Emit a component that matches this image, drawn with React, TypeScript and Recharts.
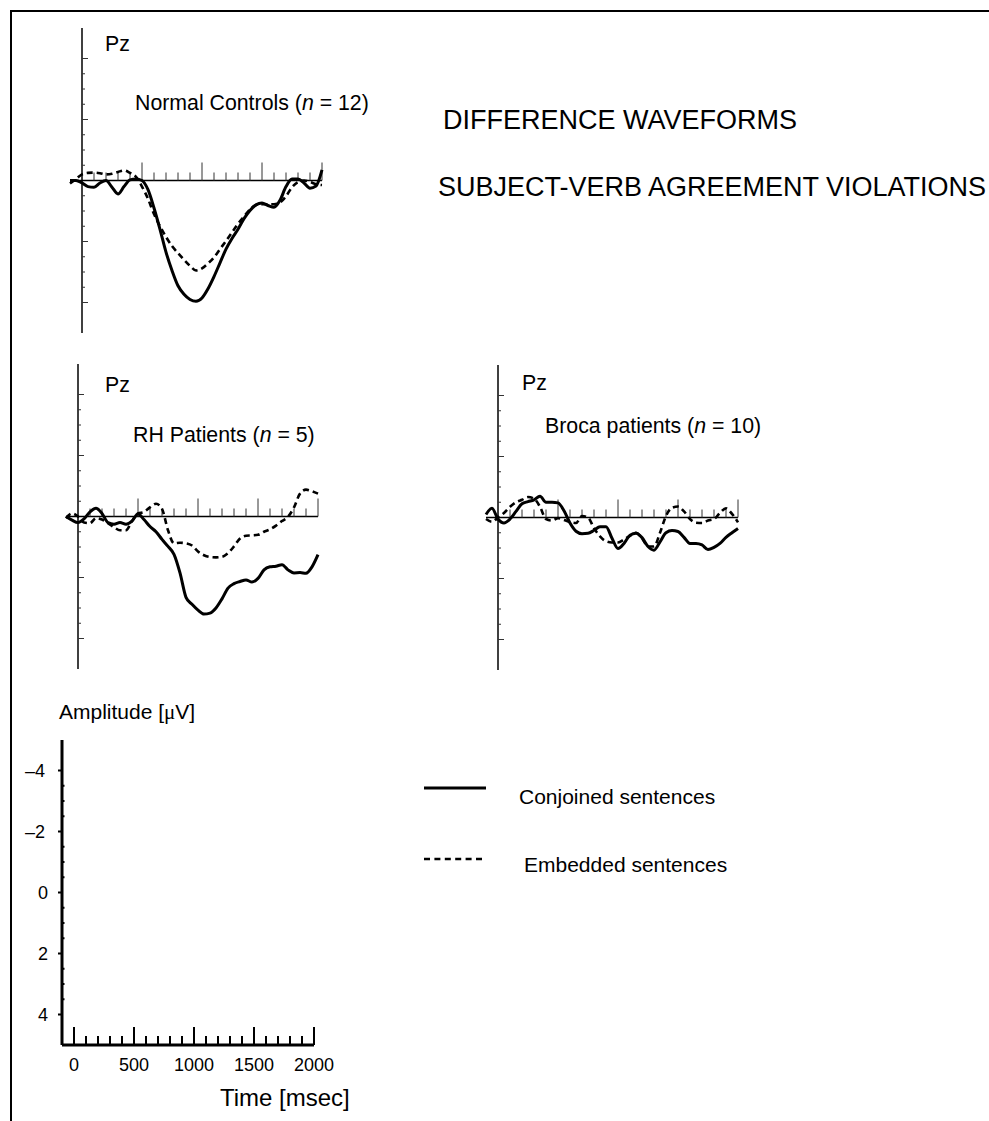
import React from "react";
import { LineChart, Line, XAxis, YAxis, ReferenceLine } from "recharts";

// time base shared by every waveform (ms)
const timeMs = [
  -100, -50, 0, 50, 100, 150, 200, 250, 300, 350, 400, 450, 500, 550, 600,
  650, 700, 750, 800, 850, 900, 950, 1000, 1050, 1100, 1150, 1200, 1250, 1300,
  1350, 1400, 1450, 1500, 1550, 1600, 1650, 1700, 1750, 1800, 1850, 1900, 1950,
  2000,
];

// amplitudes in µV (negative plotted up)
const normalConjoined = [
  0.0, 0.0, 0.08, 0.2, 0.22, 0.08, 0.0, 0.22, 0.44, 0.2, -0.02, -0.05, 0.0,
  0.3, 0.9, 1.6, 2.35, 2.95, 3.45, 3.73, 3.9, 3.96, 3.85, 3.55, 3.15, 2.7,
  2.25, 1.9, 1.6, 1.25, 0.98, 0.8, 0.74, 0.82, 0.88, 0.65, 0.2, -0.05, -0.05,
  0.08, 0.25, 0.18, -0.35,
];
const normalEmbedded = [
  0.1, -0.05, -0.2, -0.25, -0.26, -0.24, -0.2, -0.22, -0.28, -0.33, -0.25,
  -0.12, 0.2, 0.6, 1.1, 1.5, 1.85, 2.15, 2.38, 2.6, 2.8, 2.95, 2.88, 2.72,
  2.52, 2.25, 1.98, 1.7, 1.42, 1.18, 0.95, 0.8, 0.78, 0.78, 0.78, 0.72, 0.52,
  0.22, 0.05, 0.0, 0.05, 0.12, 0.15,
];
const rhConjoined = [
  0.0, 0.12, 0.2, 0.08, -0.15, -0.27, -0.1, 0.2, 0.25, 0.2, 0.25, 0.15, -0.08,
  0.1, 0.33, 0.5, 0.75, 0.98, 1.24, 1.85, 2.65, 2.88, 3.07, 3.2, 3.17, 3.0,
  2.7, 2.35, 2.2, 2.13, 2.08, 2.15, 2.03, 1.75, 1.65, 1.63, 1.58, 1.75, 1.85,
  1.84, 1.86, 1.65, 1.25,
];
const rhEmbedded = [
  0.05, -0.1, 0.0, 0.2, 0.22, 0.05, 0.1, 0.22, 0.35, 0.45, 0.45, 0.15, -0.1,
  -0.15, -0.3, -0.42, -0.25, 0.45, 0.88, 0.86, 0.88, 0.95, 1.15, 1.27, 1.33,
  1.34, 1.32, 1.2, 0.98, 0.72, 0.63, 0.62, 0.6, 0.5, 0.42, 0.3, 0.15, 0.01,
  -0.3, -0.75, -0.88, -0.83, -0.75,
];
const brocaConjoined = [
  -0.1, -0.3, 0.05, 0.18, 0.05, -0.2, -0.45, -0.52, -0.58, -0.7, -0.5, -0.5,
  -0.48, -0.22, 0.18, 0.45, 0.53, 0.52, 0.42, 0.3, 0.3, 0.68, 1.02, 0.85, 0.58,
  0.52, 0.66, 0.95, 1.07, 0.8, 0.5, 0.43, 0.46, 0.65, 0.85, 0.85, 0.9, 1.05,
  0.98, 0.85, 0.65, 0.5, 0.36,
];
const brocaEmbedded = [
  0.05, 0.14, 0.0, -0.15, -0.35, -0.5, -0.58, -0.67, -0.62, -0.35, 0.05, 0.1,
  0.02, 0.08, 0.15, 0.18, -0.05, 0.0, 0.35, 0.62, 0.78, 0.82, 0.82, 0.72, 0.6,
  0.5, 0.68, 0.95, 0.95, 0.5, -0.05, -0.32, -0.36, -0.2, 0.05, 0.17, 0.18, 0.1,
  0.05, -0.15, -0.3, -0.12, 0.16,
];

// axis ticks
const panelYTicks = [
  -4, -3.5, -3, -2.5, -2, -1.5, -1, -0.5, 0.5, 1, 1.5, 2, 2.5, 3, 3.5, 4,
];
const panelYMajor = [-4, -2, 2, 4];
const panelXTicks = [
  100, 200, 300, 400, 500, 600, 700, 800, 900, 1000, 1100, 1200, 1300, 1400,
  1500, 1600, 1700, 1800, 1900, 2000,
];
const xMajor = [0, 500, 1000, 1500, 2000];
const scaleXTicks = [0, ...panelXTicks];
const scaleYTicks = [
  -4, -3.5, -3, -2.5, -2, -1.5, -1, -0.5, 0, 0.5, 1, 1.5, 2, 2.5, 3, 3.5, 4,
];
const scaleYLabels = [-4, -2, 0, 2, 4];

const T_DOMAIN: [number, number] = [-100, 2000];
const V_DOMAIN: [number, number] = [-5, 5];
const PLOT_W = 252;
const PLOT_H = 305;
const PAD = 10;
const MS_PER_PX = (T_DOMAIN[1] - T_DOMAIN[0]) / PLOT_W;
const UV_PER_PX = (V_DOMAIN[1] - V_DOMAIN[0]) / PLOT_H;

const FONT = '"Liberation Sans", Arial, Helvetica, sans-serif';

type TextProps = {
  left: number;
  cy: number;
  size: number;
  children: React.ReactNode;
};

const Txt = ({ left, cy, size, children }: TextProps) => (
  <div
    style={{
      position: "absolute",
      left,
      top: cy - size * 0.59,
      fontSize: size,
      lineHeight: `${size * 1.2}px`,
      fontFamily: FONT,
      whiteSpace: "nowrap",
      color: "#000",
    }}>
    {children}
  </div>
);

type PanelProps = {
  plotLeft: number;
  plotTop: number;
  conjoined: number[];
  embedded: number[];
};

const WavePanel = ({ plotLeft, plotTop, conjoined, embedded }: PanelProps) => {
  const rows = timeMs.map((t, i) => ({
    t,
    conjoined: conjoined[i],
    embedded: embedded[i],
  }));
  return (
    <div style={{ position: "absolute", left: plotLeft - PAD, top: plotTop - PAD }}>
      <LineChart
        width={PLOT_W + 2 * PAD}
        height={PLOT_H + 2 * PAD}
        data={rows}
        margin={{ top: PAD, right: PAD, bottom: PAD, left: PAD }}>
        <XAxis type="number" dataKey="t" domain={T_DOMAIN} hide />
        <YAxis type="number" domain={V_DOMAIN} reversed hide />
        <ReferenceLine x={0} stroke="#000" strokeWidth={1.5} />
        <ReferenceLine y={0} stroke="#000" strokeWidth={1.5} />
        {panelYTicks.map((v) => (
          <ReferenceLine
            key={"y" + v}
            segment={[
              { x: 0, y: v },
              { x: (panelYMajor.includes(v) ? 6 : 3) * MS_PER_PX, y: v },
            ]}
            stroke="#333"
            strokeWidth={1}
          />
        ))}
        {panelXTicks.map((t) => (
          <ReferenceLine
            key={"x" + t}
            segment={[
              { x: t, y: 0 },
              { x: t, y: -(xMajor.includes(t) ? 18 : 8) * UV_PER_PX },
            ]}
            stroke="#333"
            strokeWidth={1}
          />
        ))}
        <Line
          type="monotone"
          dataKey="embedded"
          stroke="#000"
          strokeWidth={2.6}
          strokeDasharray="6 4"
          dot={false}
          activeDot={false}
          isAnimationActive={false}
        />
        <Line
          type="monotone"
          dataKey="conjoined"
          stroke="#000"
          strokeWidth={3}
          dot={false}
          activeDot={false}
          isAnimationActive={false}
        />
      </LineChart>
    </div>
  );
};

const ScaleXTick = (props: any) => {
  const { x, y, payload } = props;
  const v = payload.value;
  const major = xMajor.includes(v);
  return (
    <g>
      <line x1={x} x2={x} y1={y} y2={y - (major ? 18 : 9)} stroke="#000" strokeWidth={2} />
      {major && (
        <text x={x} y={y + 26} textAnchor="middle" fontSize={18} fontFamily={FONT} fill="#000">
          {v}
        </text>
      )}
    </g>
  );
};

const ScaleYTick = (props: any) => {
  const { x, y, payload } = props;
  const v = payload.value;
  const labelled = scaleYLabels.includes(v);
  return (
    <g>
      {labelled ? (
        <line x1={x - 4} x2={x} y1={y} y2={y} stroke="#000" strokeWidth={2} />
      ) : (
        <line x1={x} x2={x + 2.5} y1={y} y2={y} stroke="#000" strokeWidth={2} />
      )}
      {labelled && (
        <text
          x={x - (v < 0 ? 17 : 14)}
          y={y + 6}
          textAnchor="end"
          fontSize={18}
          fontFamily={FONT}
          fill="#000">
          {v < 0 ? `\u2013${-v}` : `${v}`}
        </text>
      )}
    </g>
  );
};

const ScaleBar = () => {
  // the scale bar carries no waveform; a flat row keeps both axes bound to data
  const rows = timeMs.map((t) => ({ t, level: 0 }));
  return (
    <div style={{ position: "absolute", left: 0, top: 730 }}>
      <LineChart
        width={62 + PLOT_W + 20}
        height={10 + PLOT_H + 50}
        data={rows}
        margin={{ top: 10, right: 20, bottom: 0, left: 0 }}>
        <XAxis
          type="number"
          dataKey="t"
          domain={T_DOMAIN}
          ticks={scaleXTicks}
          interval={0}
          height={50}
          tickSize={0}
          tickMargin={0}
          tickLine={false}
          axisLine={{ stroke: "#000", strokeWidth: 3 }}
          tick={(p: any) => <ScaleXTick {...p} />}
        />
        <YAxis
          type="number"
          domain={V_DOMAIN}
          allowDataOverflow
          reversed
          ticks={scaleYTicks}
          interval={0}
          width={62}
          tickSize={0}
          tickMargin={0}
          tickLine={false}
          axisLine={{ stroke: "#000", strokeWidth: 3 }}
          tick={(p: any) => <ScaleYTick {...p} />}
        />
        <Line
          dataKey="level"
          stroke="none"
          dot={false}
          activeDot={false}
          isAnimationActive={false}
        />
      </LineChart>
    </div>
  );
};

const Legend = () => (
  <svg
    width={100}
    height={100}
    style={{ position: "absolute", left: 410, top: 770 }}>
    <line x1={14} x2={76} y1={18} y2={18} stroke="#000" strokeWidth={3} />
    <line
      x1={14}
      x2={72}
      y1={89}
      y2={89}
      stroke="#000"
      strokeWidth={2.5}
      strokeDasharray="6 4.4"
    />
  </svg>
);

export default function App() {
  return (
    <div
      style={{
        position: "absolute",
        left: 0,
        top: 0,
        width: 989,
        height: 1121,
        overflow: "hidden",
        background: "#fff",
      }}>
      {/* frame */}
      <div
        style={{
          position: "absolute",
          left: 10,
          top: 10,
          width: 1000,
          height: 1200,
          borderTop: "2px solid #000",
          borderLeft: "2px solid #000",
        }}
      />

      <WavePanel plotLeft={70} plotTop={27.5} conjoined={normalConjoined} embedded={normalEmbedded} />
      <WavePanel plotLeft={66.3} plotTop={364} conjoined={rhConjoined} embedded={rhEmbedded} />
      <WavePanel plotLeft={486} plotTop={365} conjoined={brocaConjoined} embedded={brocaEmbedded} />

      <Txt left={105} cy={45} size={21.3}>Pz</Txt>
      <Txt left={135} cy={104} size={21.3}>
        Normal Controls (<i>n</i> = 12)
      </Txt>
      <Txt left={105} cy={386} size={21.3}>Pz</Txt>
      <Txt left={133} cy={435.5} size={21.3}>
        RH Patients (<i>n</i> = 5)
      </Txt>
      <Txt left={522} cy={384} size={21.3}>Pz</Txt>
      <Txt left={545} cy={427} size={21.3}>
        Broca patients (<i>n</i> = 10)
      </Txt>

      <Txt left={443} cy={120} size={27}>DIFFERENCE WAVEFORMS</Txt>
      <Txt left={438} cy={187} size={27}>SUBJECT-VERB AGREEMENT VIOLATIONS</Txt>

      <ScaleBar />
      <Txt left={59} cy={711} size={21}>
        Amplitude [<span style={{ fontFamily: '"Liberation Serif", serif' }}>μ</span>V]
      </Txt>
      <Txt left={220} cy={1098} size={24}>Time [msec]</Txt>

      <Legend />
      <Txt left={519} cy={796} size={21}>Conjoined sentences</Txt>
      <Txt left={524} cy={864} size={21}>Embedded sentences</Txt>
    </div>
  );
}
